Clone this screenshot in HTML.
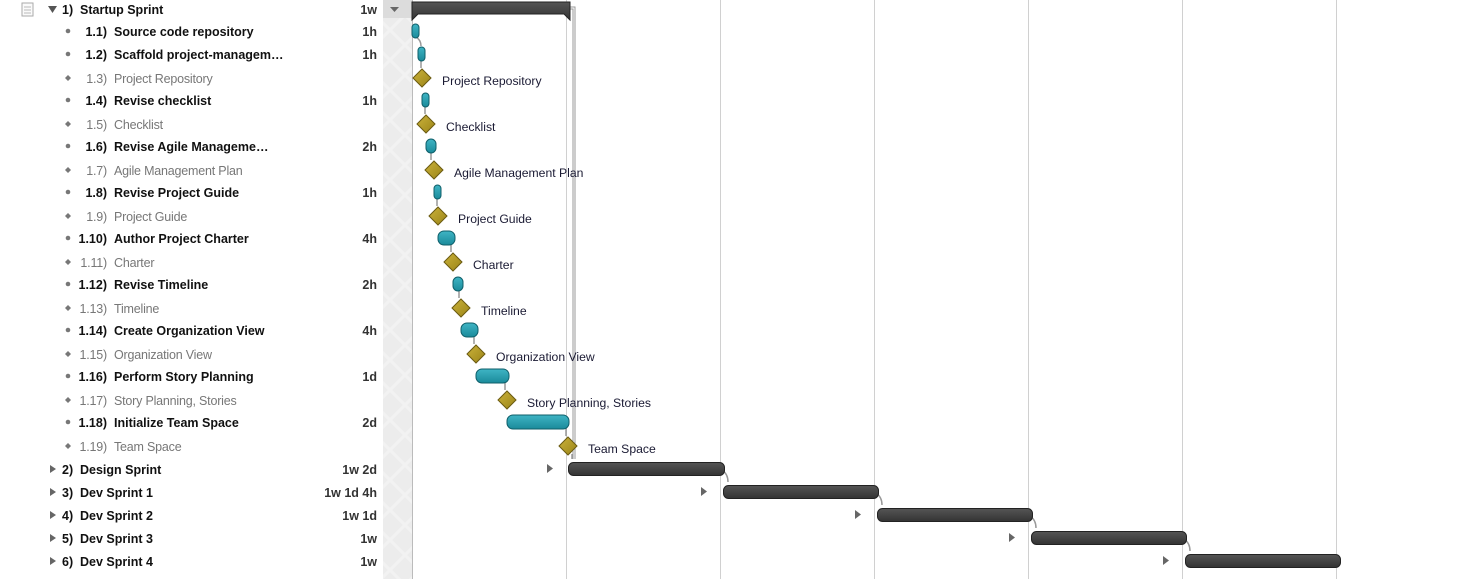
<!DOCTYPE html>
<html><head><meta charset="utf-8"><style>
html,body{margin:0;padding:0;background:#fff;width:1466px;height:579px;overflow:hidden}
svg{display:block;font-family:"Liberation Sans",sans-serif}
.b{font-size:12.5px;font-weight:bold;fill:#111}
.l{font-size:12.5px;fill:#777;letter-spacing:-0.2px}
.d{font-size:12.5px;font-weight:bold;fill:#333}
.g{font-size:12.2px;fill:#1a1a33}
</style></head><body>
<svg width="1466" height="579" viewBox="0 0 1466 579">
<defs>
<linearGradient id="teal" x1="0" y1="0" x2="0" y2="1"><stop offset="0" stop-color="#3fb4c4"/><stop offset="1" stop-color="#1a8a9a"/></linearGradient>
<linearGradient id="dark" x1="0" y1="0" x2="0" y2="1"><stop offset="0" stop-color="#555"/><stop offset="1" stop-color="#333"/></linearGradient>
<linearGradient id="gold" x1="0" y1="0" x2="1" y2="1"><stop offset="0" stop-color="#cbb23a"/><stop offset="1" stop-color="#9a8418"/></linearGradient>
<pattern id="hatch" width="30" height="30" patternUnits="userSpaceOnUse"><rect width="30" height="30" fill="#ececec"/><path d="M0 0L30 30M30 0L0 30" stroke="#f2f2f2" stroke-width="3"/></pattern>
</defs>
<rect x="383" y="0" width="29" height="579" fill="url(#hatch)"/>
<rect x="383" y="0" width="29" height="18" fill="#dcdcdc"/>
<path d="M390 7h9l-4.5 5z" fill="#666"/>
<g stroke="#d0d0d0" stroke-width="1">
<line x1="412.5" y1="0" x2="412.5" y2="579" stroke="#bbb"/>
<line x1="566.5" y1="0" x2="566.5" y2="579"/><line x1="720.5" y1="0" x2="720.5" y2="579"/>
<line x1="874.5" y1="0" x2="874.5" y2="579"/><line x1="1028.5" y1="0" x2="1028.5" y2="579"/>
<line x1="1182.5" y1="0" x2="1182.5" y2="579"/><line x1="1336.5" y1="0" x2="1336.5" y2="579"/>
</g>
<!-- left panel -->
<rect x="22" y="3" width="11" height="13" fill="#fafafa" stroke="#aaa"/>
<g stroke="#bbb"><line x1="24" y1="7" x2="31" y2="7"/><line x1="24" y1="10" x2="31" y2="10"/><line x1="24" y1="13" x2="31" y2="13"/></g>
<path d="M48 6h9l-4.5 7z" fill="#555"/>
<text class="b" x="62" y="14">1)</text><text class="b" x="80" y="14">Startup Sprint</text><text class="d" x="377" y="14" text-anchor="end">1w</text>
<g fill="#777">
<circle cx="68" cy="31" r="2.3"/><circle cx="68" cy="54" r="2.3"/><circle cx="68" cy="100" r="2.3"/><circle cx="68" cy="146" r="2.3"/><circle cx="68" cy="192" r="2.3"/><circle cx="68" cy="238" r="2.3"/><circle cx="68" cy="284" r="2.3"/><circle cx="68" cy="330" r="2.3"/><circle cx="68" cy="376" r="2.3"/><circle cx="68" cy="422" r="2.3"/>
<path d="M68 75l3 3-3 3-3-3z"/><path d="M68 121l3 3-3 3-3-3z"/><path d="M68 167l3 3-3 3-3-3z"/><path d="M68 213l3 3-3 3-3-3z"/><path d="M68 259l3 3-3 3-3-3z"/><path d="M68 305l3 3-3 3-3-3z"/><path d="M68 351l3 3-3 3-3-3z"/><path d="M68 397l3 3-3 3-3-3z"/><path d="M68 443l3 3-3 3-3-3z"/>
</g>
<text class="b" x="107" y="36" text-anchor="end">1.1)</text><text class="b" x="114" y="36">Source code repository</text><text class="d" x="377" y="36" text-anchor="end">1h</text>
<text class="b" x="107" y="59" text-anchor="end">1.2)</text><text class="b" x="114" y="59">Scaffold project-managem…</text><text class="d" x="377" y="59" text-anchor="end">1h</text>
<text class="l" x="107" y="83" text-anchor="end">1.3)</text><text class="l" x="114" y="83">Project Repository</text>
<text class="b" x="107" y="105" text-anchor="end">1.4)</text><text class="b" x="114" y="105">Revise checklist</text><text class="d" x="377" y="105" text-anchor="end">1h</text>
<text class="l" x="107" y="129" text-anchor="end">1.5)</text><text class="l" x="114" y="129">Checklist</text>
<text class="b" x="107" y="151" text-anchor="end">1.6)</text><text class="b" x="114" y="151">Revise Agile Manageme…</text><text class="d" x="377" y="151" text-anchor="end">2h</text>
<text class="l" x="107" y="175" text-anchor="end">1.7)</text><text class="l" x="114" y="175">Agile Management Plan</text>
<text class="b" x="107" y="197" text-anchor="end">1.8)</text><text class="b" x="114" y="197">Revise Project Guide</text><text class="d" x="377" y="197" text-anchor="end">1h</text>
<text class="l" x="107" y="221" text-anchor="end">1.9)</text><text class="l" x="114" y="221">Project Guide</text>
<text class="b" x="107" y="243" text-anchor="end">1.10)</text><text class="b" x="114" y="243">Author Project Charter</text><text class="d" x="377" y="243" text-anchor="end">4h</text>
<text class="l" x="107" y="267" text-anchor="end">1.11)</text><text class="l" x="114" y="267">Charter</text>
<text class="b" x="107" y="289" text-anchor="end">1.12)</text><text class="b" x="114" y="289">Revise Timeline</text><text class="d" x="377" y="289" text-anchor="end">2h</text>
<text class="l" x="107" y="313" text-anchor="end">1.13)</text><text class="l" x="114" y="313">Timeline</text>
<text class="b" x="107" y="335" text-anchor="end">1.14)</text><text class="b" x="114" y="335">Create Organization View</text><text class="d" x="377" y="335" text-anchor="end">4h</text>
<text class="l" x="107" y="359" text-anchor="end">1.15)</text><text class="l" x="114" y="359">Organization View</text>
<text class="b" x="107" y="381" text-anchor="end">1.16)</text><text class="b" x="114" y="381">Perform Story Planning</text><text class="d" x="377" y="381" text-anchor="end">1d</text>
<text class="l" x="107" y="405" text-anchor="end">1.17)</text><text class="l" x="114" y="405">Story Planning, Stories</text>
<text class="b" x="107" y="427" text-anchor="end">1.18)</text><text class="b" x="114" y="427">Initialize Team Space</text><text class="d" x="377" y="427" text-anchor="end">2d</text>
<text class="l" x="107" y="451" text-anchor="end">1.19)</text><text class="l" x="114" y="451">Team Space</text>
<g fill="#666"><path d="M50 465v8l6-4z"/><path d="M50 488v8l6-4z"/><path d="M50 511v8l6-4z"/><path d="M50 534v8l6-4z"/><path d="M50 557v8l6-4z"/></g>
<text class="b" x="62" y="474">2)</text><text class="b" x="80" y="474">Design Sprint</text><text class="d" x="377" y="474" text-anchor="end" fill="#555">1w 2d</text>
<text class="b" x="62" y="497">3)</text><text class="b" x="80" y="497">Dev Sprint 1</text><text class="d" x="377" y="497" text-anchor="end">1w 1d 4h</text>
<text class="b" x="62" y="520">4)</text><text class="b" x="80" y="520">Dev Sprint 2</text><text class="d" x="377" y="520" text-anchor="end">1w 1d</text>
<text class="b" x="62" y="543">5)</text><text class="b" x="80" y="543">Dev Sprint 3</text><text class="d" x="377" y="543" text-anchor="end">1w</text>
<text class="b" x="62" y="566">6)</text><text class="b" x="80" y="566">Dev Sprint 4</text><text class="d" x="377" y="566" text-anchor="end">1w</text>
<!-- summary bar + vertical connector -->
<path d="M570 8H574V459" fill="none" stroke="#999" stroke-width="3"/>
<path d="M570 8H574V459" fill="none" stroke="#fff" stroke-width="1"/>
<path d="M412 2H570V20L564 14H418L412 20Z" fill="url(#dark)" stroke="#222"/>
<!-- connectors -->
<g fill="none" stroke="#999" stroke-width="1.5">
<path d="M416 37Q421 40 421 46"/><path d="M421 60V68"/><path d="M425 106V114"/><path d="M431 152V160"/><path d="M437 198V206"/>
<path d="M451 244V252"/><path d="M459 290V298"/><path d="M474 336V344"/><path d="M505 382V390"/><path d="M566 428V436"/><path d="M572 454V459"/>
<path d="M722 470Q728 474 728 482"/><path d="M876 493Q882 497 882 505"/><path d="M1030 516Q1036 520 1036 528"/><path d="M1184 539Q1190 543 1190 551"/>
</g>
<!-- task bars -->
<g fill="url(#teal)" stroke="#0f5f6a">
<rect x="412" y="24" width="7" height="14" rx="3.5"/>
<rect x="418" y="47" width="7" height="14" rx="3.5"/>
<rect x="422" y="93" width="7" height="14" rx="3.5"/>
<rect x="426" y="139" width="10" height="14" rx="5"/>
<rect x="434" y="185" width="7" height="14" rx="3.5"/>
<rect x="438" y="231" width="17" height="14" rx="6"/>
<rect x="453" y="277" width="10" height="14" rx="5"/>
<rect x="461" y="323" width="17" height="14" rx="6"/>
<rect x="476" y="369" width="33" height="14" rx="6"/>
<rect x="507" y="415" width="62" height="14" rx="6"/>
</g>
<!-- milestones -->
<g fill="url(#gold)" stroke="#6a5a10">
<path d="M422 69l9 9-9 9-9-9z"/><path d="M426 115l9 9-9 9-9-9z"/><path d="M434 161l9 9-9 9-9-9z"/><path d="M438 207l9 9-9 9-9-9z"/>
<path d="M453 253l9 9-9 9-9-9z"/><path d="M461 299l9 9-9 9-9-9z"/><path d="M476 345l9 9-9 9-9-9z"/><path d="M507 391l9 9-9 9-9-9z"/><path d="M568 437l9 9-9 9-9-9z"/>
</g>
<text class="g" x="442" y="85">Project Repository</text>
<text class="g" x="446" y="131">Checklist</text>
<text class="g" x="454" y="177">Agile Management Plan</text>
<text class="g" x="458" y="223">Project Guide</text>
<text class="g" x="473" y="269">Charter</text>
<text class="g" x="481" y="315">Timeline</text>
<text class="g" x="496" y="361">Organization View</text>
<text class="g" x="527" y="407">Story Planning, Stories</text>
<text class="g" x="588" y="453">Team Space</text>
<!-- sprint bars -->
<g fill="#666"><path d="M547 464v9l6-4.5z"/><path d="M701 487v9l6-4.5z"/><path d="M855 510v9l6-4.5z"/><path d="M1009 533v9l6-4.5z"/><path d="M1163 556v9l6-4.5z"/></g>
<g fill="url(#dark)" stroke="#222">
<rect x="568.5" y="462.5" width="156" height="13" rx="5"/>
<rect x="723.5" y="485.5" width="155" height="13" rx="5"/>
<rect x="877.5" y="508.5" width="155" height="13" rx="5"/>
<rect x="1031.5" y="531.5" width="155" height="13" rx="5"/>
<rect x="1185.5" y="554.5" width="155" height="13" rx="5"/>
</g>
</svg>
</body></html>
